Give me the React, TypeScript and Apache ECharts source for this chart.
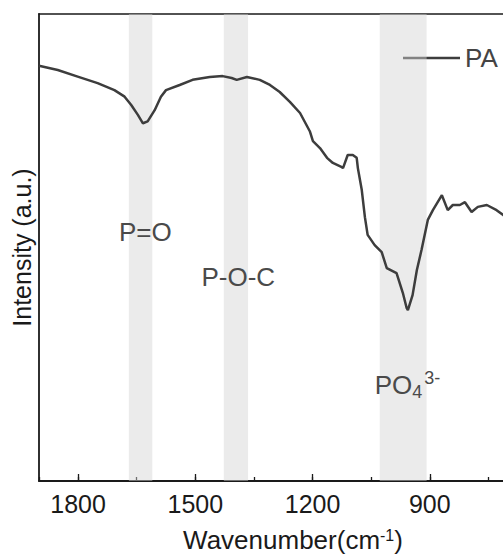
import React, { useEffect, useRef } from "react";
import * as echarts from "echarts";

const wavenumbers = [1900, 1852, 1801, 1750, 1707, 1681, 1664, 1647, 1634, 1622, 1604, 1588, 1575, 1540, 1507, 1463, 1430, 1407, 1394, 1368, 1335, 1309, 1284, 1258, 1232, 1207, 1199, 1181, 1163, 1148, 1125, 1122, 1110, 1097, 1087, 1084, 1074, 1066, 1059, 1041, 1023, 1010, 985, 969, 959, 956, 944, 933, 921, 905, 892, 869, 854, 841, 823, 810, 793, 777, 754, 729, 713, 700];
const intensity = [88.9, 88.0, 86.6, 85.2, 83.7, 82.3, 80.5, 78.4, 76.6, 77.0, 79.4, 82.3, 83.7, 84.8, 85.9, 86.5, 86.7, 86.3, 85.9, 86.5, 85.9, 84.8, 83.3, 81.2, 78.8, 74.9, 72.8, 71.3, 69.2, 68.1, 67.2, 67.0, 69.8, 69.8, 69.2, 67.0, 62.3, 56.5, 52.7, 50.5, 49.0, 45.6, 44.5, 40.3, 37.0, 36.6, 39.8, 45.2, 49.5, 55.9, 58.0, 61.2, 58.0, 59.1, 59.1, 59.7, 57.6, 58.7, 59.1, 58.0, 57.0, 56.3];
const seriesName = "PA";
const bandRanges = [[1670, 1610], [1427, 1365], [1028, 908]];
const annotations = [
  { text: "P=O", x: 1628, y: 53.3 },
  { text: "P-O-C", x: 1390, y: 43.7 },
  { text: "{m|PO}{sub|4}{sup|3-}", x: 957, y: 20.6 },
];
const xTicks = [900, 1200, 1500, 1800];

const FONT = "Liberation Sans";

export default function App() {
  const ref = useRef<HTMLDivElement>(null);
  useEffect(() => {
    const chart = echarts.init(ref.current!, undefined, { renderer: "svg" });
    const axisCommon = {
      type: "value" as const,
      min: 600,
      max: 1900,
      inverse: true,
      gridIndex: 0,
    };
    chart.setOption({
      animation: false,
      backgroundColor: "#ffffff",
      grid: { left: 39, top: 14, width: 508, height: 467, outerBoundsMode: "none", containLabel: false },
      legend: {
        data: [seriesName],
        left: 398,
        top: 40,
        z: 1,
        itemWidth: 57,
        itemHeight: 14,
        itemGap: 5,
        icon: "path://M0,6 L57,6 L57,8.5 L0,8.5 Z",
        itemStyle: { color: "#3d3d3d" },
        textStyle: { fontFamily: FONT, fontSize: 26, color: "#444" },
      },
      xAxis: [
        {
          ...axisCommon,
          position: "bottom",
          interval: 300,
          axisLine: { show: true, lineStyle: { color: "#1a1a1a", width: 1.8 } },
          axisTick: { show: true, inside: true, length: 7, lineStyle: { color: "#1a1a1a", width: 1.3 } },
          axisLabel: {
            show: true,
            margin: 10,
            showMaxLabel: false,
            showMinLabel: false,
            fontFamily: FONT,
            fontSize: 25,
            color: "#1a1a1a",
            formatter: (v: number) => (xTicks.includes(v) ? String(v) : ""),
          },
          splitLine: { show: false },
          name: "{m|Wavenumber(cm}{sup|-1}{m|)}",
          nameLocation: "middle",
          nameGap: 46,
          nameTextStyle: {
            rich: {
              m: { fontFamily: FONT, fontSize: 26, color: "#1a1a1a" },
              sup: { fontFamily: FONT, fontSize: 16, color: "#1a1a1a", verticalAlign: "top", padding: [0, 0, 6, 0] },
            },
          },
        },
        {
          ...axisCommon,
          position: "bottom",
          interval: 150,
          axisLine: { show: false },
          axisTick: { show: true, inside: true, length: 4, lineStyle: { color: "#1a1a1a", width: 1.3 } },
          axisLabel: { show: false },
          splitLine: { show: false },
        },
        {
          ...axisCommon,
          position: "top",
          axisLine: { show: true, lineStyle: { color: "#1a1a1a", width: 1.5 } },
          axisTick: { show: false },
          axisLabel: { show: false },
          splitLine: { show: false },
        },
      ],
      yAxis: {
        type: "value",
        min: 0,
        max: 100,
        axisLine: { show: true, lineStyle: { color: "#1a1a1a", width: 1.8 } },
        axisTick: { show: false },
        axisLabel: { show: false },
        splitLine: { show: false },
        name: "Intensity (a.u.)",
        nameLocation: "middle",
        nameGap: 5,
        nameTextStyle: { fontFamily: FONT, fontSize: 25, color: "#1a1a1a" },
      },
      series: [
        {
          name: seriesName,
          type: "line",
          xAxisIndex: 0,
          z: 2,
          showSymbol: false,
          symbol: "none",
          lineStyle: { color: "#3d3d3d", width: 2.5 },
          itemStyle: { color: "#3d3d3d" },
          data: wavenumbers.map((w, i) => [w, intensity[i]]),
        },
        {
          name: "bands",
          type: "line",
          xAxisIndex: 0,
          z: 6,
          data: [],
          silent: true,
          markArea: {
            silent: true,
            itemStyle: { color: "rgba(211,211,211,0.46)" },
            data: bandRanges.map(([a, b]) => [{ xAxis: a }, { xAxis: b }]),
          },
          markPoint: {
            silent: true,
            symbol: "circle",
            symbolSize: 0,
            label: {
              show: true,
              position: "inside",
              fontFamily: FONT,
              fontSize: 26,
              color: "#4a4a4a",
              formatter: (p: any) => p.name,
              rich: {
                m: { fontFamily: FONT, fontSize: 26, color: "#4a4a4a" },
                sub: { fontFamily: FONT, fontSize: 18, color: "#4a4a4a", verticalAlign: "bottom", padding: [10, 0, 0, 0] },
                sup: { fontFamily: FONT, fontSize: 18, color: "#4a4a4a", verticalAlign: "top", padding: [0, 0, 14, 2] },
              },
            },
            data: annotations.map((a) => ({ name: a.text, coord: [a.x, a.y] })),
          },
        },
      ],
    });
    return () => chart.dispose();
  }, []);
  return (
    <div
      ref={ref}
      style={{ position: "absolute", left: 0, top: 0, width: 503, height: 555, overflow: "hidden" }}
    />
  );
}
